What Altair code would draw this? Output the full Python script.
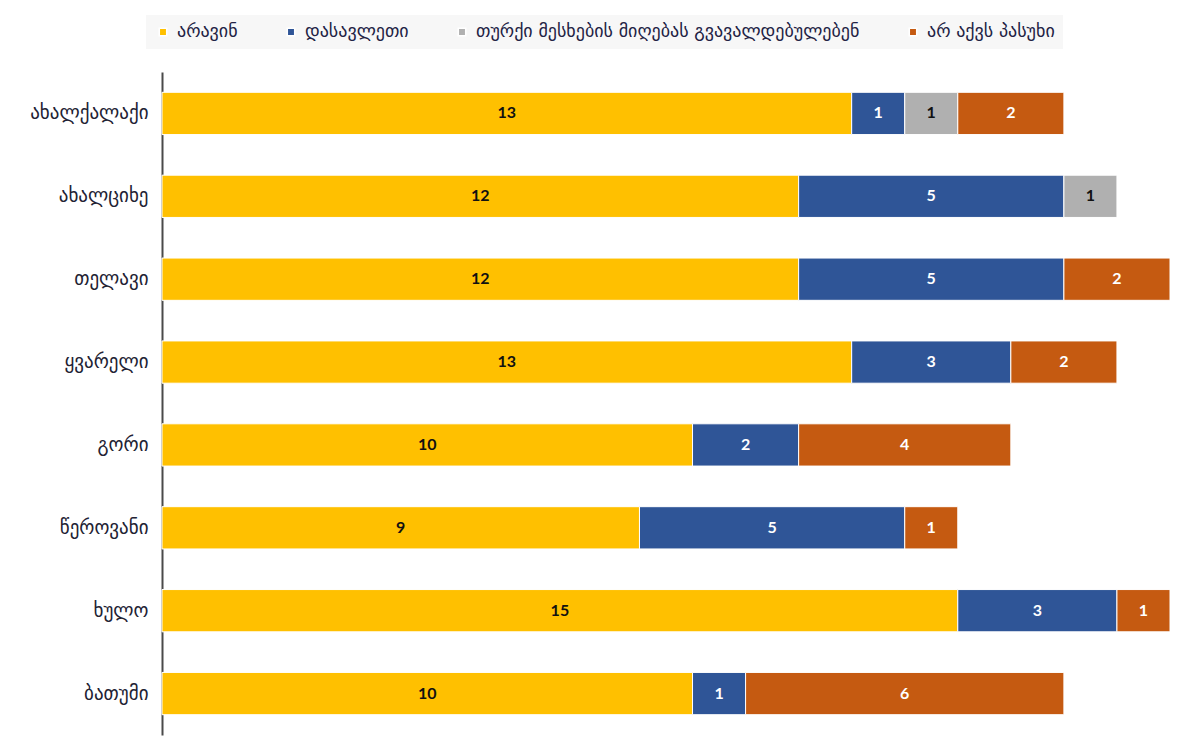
import altair as alt
import pandas as pd

cities = ["ახალქალაქი", "ახალციხე", "თელავი", "ყვარელი", "გორი", "წეროვანი", "ხულო", "ბათუმი"]
categories = ["არავინ", "დასავლეთი", "თურქი მესხების მიღებას გვავალდებულებენ", "არ აქვს პასუხი"]
colors = ["#FFC000", "#2F5597", "#B0B0B0", "#C55A11"]

nobody = [13, 12, 12, 13, 10, 9, 15, 10]
west = [1, 5, 5, 3, 2, 5, 3, 1]
turks = [1, 1, 0, 0, 0, 0, 0, 0]
no_answer = [2, 0, 2, 2, 4, 1, 1, 6]

series = [nobody, west, turks, no_answer]
rows = []
for ci, city in enumerate(cities):
    for k, cat in enumerate(categories):
        v = series[k][ci]
        if v > 0:
            rows.append({"city": city, "cat": cat, "ord": k, "value": v})
df = pd.DataFrame(rows)

base = alt.Chart(df).transform_stack(
    stack="value", groupby=["city"], sort=[alt.SortField("ord", order="ascending")], as_=["x0", "x1"]
).transform_calculate(mid="(datum.x0 + datum.x1) / 2")

y = alt.Y("city:N", sort=cities, title=None,
          scale=alt.Scale(paddingInner=0.49, paddingOuter=0.245),
          axis=alt.Axis(domainColor="#4a4a4a", domainWidth=2, ticks=False, labelPadding=14,
                        labelFont="DejaVu Sans", labelFontSize=19, labelColor="#222233",
                        grid=False))

bars = base.mark_bar(stroke="white", strokeWidth=1).encode(
    y=y,
    x=alt.X("x0:Q", scale=alt.Scale(domain=[0, 19], nice=False), axis=None),
    x2="x1:Q",
    color=alt.Color("cat:N", sort=categories,
                    scale=alt.Scale(domain=categories, range=colors),
                    legend=alt.Legend(orient="none", legendX=-16, legendY=-57, direction="horizontal",
                                      title=None, symbolType="square", symbolSize=55,
                                      labelFont="DejaVu Sans", labelFontSize=18, labelColor="#222244",
                                      fillColor="#F7F7F7", padding=8, columnPadding=44,
                                      labelOffset=5, labelLimit=800)),
)

texts = base.mark_text(font="Lato", fontWeight="bold", fontSize=16).encode(
    y=alt.Y("city:N", sort=cities),
    x=alt.X("mid:Q"),
    text="value:Q",
    color=alt.condition("datum.ord == 1 || datum.ord == 3", alt.value("white"), alt.value("#111111")),
)

chart = (bars + texts).properties(
    width=1008, height=663,
    autosize=alt.AutoSizeParams(type="none"),
    padding={"left": 154, "top": 64, "right": 2, "bottom": 2},
    background="white",
).configure_view(stroke=None)

chart.save("out.html", embed_options={"renderer": "svg", "actions": False})
